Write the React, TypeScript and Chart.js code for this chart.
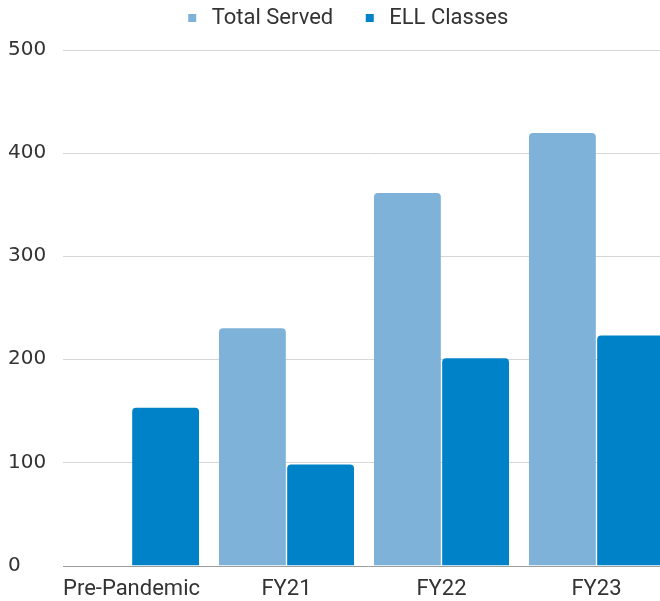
import React, { useEffect, useRef } from "react";
import { Chart, registerables } from "chart.js";

Chart.register(...registerables);

const categories = ["Pre-Pandemic", "FY21", "FY22", "FY23"];
const totalServed = [null, 230, 361, 419];
const ellClasses = [153, 98, 201, 223];
const yTicks = [0, 100, 200, 300, 400, 500];

const W = 666;
const H = 635;
const CANVAS_LEFT = 8;
const CANVAS_TOP = -21;

export default function App() {
  const ref = useRef<HTMLCanvasElement | null>(null);

  useEffect(() => {
    if (!ref.current) return;
    const gridPlugin = {
      id: "customGrid",
      beforeDatasetsDraw(chart: any) {
        const { ctx, chartArea, scales } = chart;
        const y = scales.y;
        ctx.save();
        yTicks.forEach((v) => {
          const py = Math.round(y.getPixelForValue(v)) + 0.5;
          ctx.beginPath();
          ctx.strokeStyle = v === 0 ? "#9e9e9e" : "#d6d6d6";
          ctx.lineWidth = 1;
          ctx.moveTo(63 - CANVAS_LEFT, py);
          ctx.lineTo(chartArea.right, py);
          ctx.stroke();
        });
        ctx.restore();
      },
    };
    const legendTweak = {
      id: "legendTweak",
      beforeInit(chart: any) {
        const legend = chart.legend;
        const origFit = legend.fit;
        legend.fit = function () {
          origFit.call(this);
          this.height = 49.5 - CANVAS_TOP;
        };
        const origDraw = legend.draw;
        legend.draw = function () {
          const c = this.ctx;
          c.save();
          c.translate(5, 0);
          origDraw.call(this);
          c.restore();
        };
      },
    };
    const chart = new Chart(ref.current, {
      type: "bar",
      data: {
        labels: categories,
        datasets: [
          {
            label: "Total Served",
            data: totalServed,
            backgroundColor: "#7eb2d9",
            borderRadius: 4,
            borderSkipped: "start",
          },
          {
            label: "ELL Classes",
            data: ellClasses,
            backgroundColor: "#0082c8",
            borderRadius: 4,
            borderSkipped: "start",
          },
        ],
      },
      options: {
        responsive: false,
        animation: false,
        layout: { padding: 0 },
        datasets: {
          bar: { categoryPercentage: 0.88, barPercentage: 0.98 },
        },
        plugins: {
          tooltip: { enabled: false },
          legend: {
            position: "top",
            align: "center",
            labels: {
              usePointStyle: true,
              pointStyle: "rect",
              boxWidth: 17,
              boxHeight: 8,
              padding: 28,
              color: "#333",
              font: { family: "Roboto", size: 22 },
            },
          },
        },
        scales: {
          x: {
            grid: { display: false, drawTicks: false },
            border: { display: false },
            ticks: {
              color: "#333",
              padding: 11,
              maxRotation: 0,
              font: { family: "Roboto", size: 22 },
            },
          },
          y: {
            min: 0,
            max: 500,
            grid: { display: false, drawTicks: false },
            border: { display: false },
            afterFit(scale: any) {
              scale.width = 46;
            },
            ticks: {
              stepSize: 100,
              crossAlign: "far",
              color: "#333",
              font: { family: "DejaVu Sans", size: 20 },
            },
          },
        },
      },
      plugins: [gridPlugin, legendTweak],
    });
    return () => chart.destroy();
  }, []);

  return (
    <div
      style={{
        position: "fixed",
        left: 0,
        top: 0,
        width: 660,
        height: 601,
        overflow: "hidden",
        background: "#fff",
      }}
    >
      <canvas
        ref={ref}
        width={W}
        height={H}
        style={{ position: "absolute", left: CANVAS_LEFT, top: CANVAS_TOP, width: W, height: H }}
      />
    </div>
  );
}
